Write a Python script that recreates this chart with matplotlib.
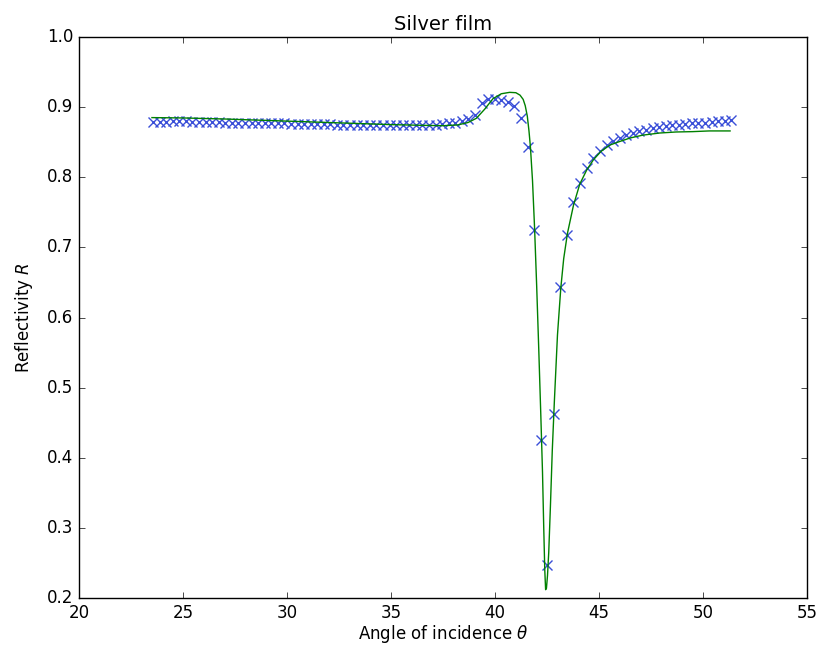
import matplotlib
matplotlib.use("Agg")
from matplotlib import pyplot as plt

# measured reflectivity (markers)
theta = [23.55, 23.87, 24.18, 24.50, 24.81, 25.13, 25.45, 25.76, 26.08, 26.39,
         26.71, 27.03, 27.34, 27.66, 27.97, 28.29, 28.61, 28.92, 29.24, 29.55,
         29.87, 30.19, 30.50, 30.82, 31.13, 31.45, 31.77, 32.08, 32.40, 32.71,
         33.03, 33.35, 33.66, 33.98, 34.29, 34.61, 34.93, 35.24, 35.56, 35.87,
         36.19, 36.51, 36.82, 37.14, 37.45, 37.77, 38.09, 38.40, 38.72, 39.03,
         39.35, 39.67, 39.98, 40.30, 40.61, 40.93, 41.25, 41.56,
         41.88, 42.19, 42.51, 42.83, 43.14, 43.46, 43.77, 44.09, 44.41,
         44.72, 45.04, 45.36, 45.67, 45.99, 46.30, 46.62, 46.94, 47.25, 47.57,
         47.88, 48.20, 48.52, 48.83, 49.15, 49.46, 49.78, 50.10, 50.41, 50.73,
         51.04, 51.36]
R = [0.879, 0.879, 0.879, 0.880, 0.880, 0.880, 0.879, 0.879, 0.879, 0.879,
     0.879, 0.878, 0.878, 0.878, 0.878, 0.877, 0.877, 0.877, 0.877, 0.877,
     0.877, 0.876, 0.876, 0.876, 0.876, 0.876, 0.876, 0.876, 0.875, 0.875,
     0.875, 0.875, 0.875, 0.875, 0.875, 0.875, 0.875, 0.875, 0.875, 0.874,
     0.874, 0.874, 0.875, 0.875, 0.876, 0.877, 0.878, 0.880, 0.883, 0.889,
     0.906, 0.912, 0.911, 0.910, 0.907, 0.902, 0.885, 0.843,
     0.725, 0.425, 0.247, 0.462, 0.644, 0.718, 0.765, 0.792, 0.813,
     0.828, 0.838, 0.846, 0.852, 0.856, 0.860, 0.863, 0.866, 0.868, 0.870,
     0.871, 0.873, 0.874, 0.875, 0.876, 0.877, 0.878, 0.878, 0.879, 0.880,
     0.880, 0.881]

# fitted curve
fit_theta = [23.5, 25.0, 27.0, 29.0, 31.0, 33.0, 35.0, 36.5, 37.5, 38.2,
             38.7, 39.1, 39.5, 39.9, 40.3, 40.7, 41.0, 41.2, 41.35, 41.45,
             41.55, 41.63, 41.7, 41.8, 41.9, 42.0, 42.1, 42.2, 42.28, 42.34,
             42.39, 42.43, 42.47, 42.52, 42.58, 42.66, 42.75, 42.85, 43.0, 43.16,
             43.3, 43.48, 43.77, 44.07, 44.4, 44.73, 45.1, 45.53, 46.0, 46.5,
             47.1, 47.9, 48.7, 49.5, 50.3, 51.3]
fit_R = [0.885, 0.8845, 0.883, 0.881, 0.879, 0.877, 0.875, 0.874, 0.8735, 0.8745,
         0.878, 0.884, 0.897, 0.912, 0.919, 0.921, 0.9205, 0.917, 0.911, 0.902,
         0.887, 0.866, 0.843, 0.795, 0.727, 0.645, 0.555, 0.46, 0.38, 0.30,
         0.24, 0.212, 0.214, 0.232, 0.265, 0.33, 0.41, 0.48, 0.575, 0.642,
         0.684, 0.72, 0.760, 0.790, 0.810, 0.825, 0.837, 0.846, 0.851, 0.856,
         0.860, 0.863, 0.8645, 0.865, 0.866, 0.866]

plt.style.use('classic')
plt.rcParams['mathtext.fontset'] = 'dejavusans'
fig, ax = plt.subplots(figsize=(8.16, 6.48), dpi=100)
fig.patch.set_facecolor('white')
plt.subplots_adjust(left=0.097, right=0.989, top=0.943, bottom=0.077)

ax.plot(theta, R, 'x', color='#3a4fd8', markersize=6.5, markeredgewidth=1)
ax.plot(fit_theta, fit_R, 'g-', linewidth=1)

ax.set_xlim(20, 55)
ax.set_ylim(0.2, 1.0)
ax.set_xlabel(r'Angle of incidence $\theta$', fontsize=12, labelpad=1)
ax.set_ylabel(r'Reflectivity $R$', fontsize=12, labelpad=9)
ax.set_title('Silver film', fontsize=14)

plt.savefig('out.png', dpi=100, facecolor='white')
